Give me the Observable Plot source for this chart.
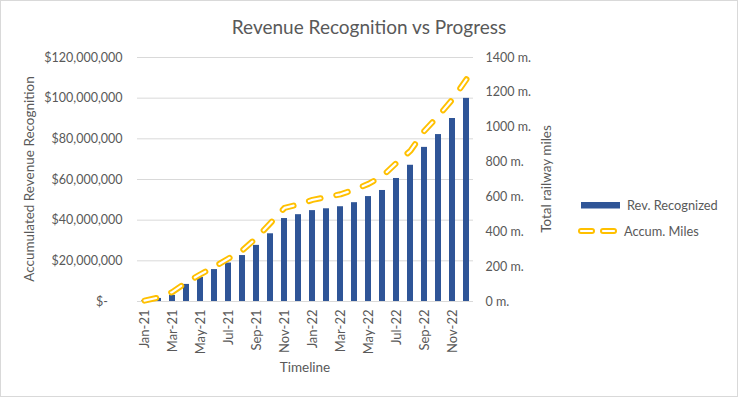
<!DOCTYPE html>
<html>
<head>
<meta charset="utf-8">
<script src="https://cdn.jsdelivr.net/npm/d3@7"></script>
<script src="https://cdn.jsdelivr.net/npm/@observablehq/plot@0.6"></script>
<style>
  body { margin: 0; background: #fff; }
  #wrap { position: relative; width: 738px; height: 397px; font-family: Lato, "Open Sans", sans-serif; color: #595959; overflow: hidden; }
  #frame { position: absolute; left: 0; top: 0; width: 738px; height: 397px; box-sizing: border-box; border: 1px solid #d9d9d9; pointer-events: none; }
  .lbl { position: absolute; white-space: nowrap; line-height: 1; transform: translate(-50%, -50%); }
  .rot { transform: translate(-50%, -50%) rotate(-90deg); }
  #legend { position: absolute; left: 570px; top: 192px; }
</style>
</head>
<body>
<div id="wrap">
  <div id="chart"></div>
  <div class="lbl" style="left:369px;top:26px;font-size:19px;">Revenue Recognition vs Progress</div>
  <div class="lbl rot" style="left:30px;top:179px;font-size:13.5px;">Accumulated Revenue Recognition</div>
  <div class="lbl rot" style="left:547px;top:179px;font-size:13.5px;">Total railway miles</div>
  <div class="lbl" style="left:305px;top:368px;font-size:13.5px;">Timeline</div>
  <div id="legend"></div>
  <div id="frame"></div>
</div>
<script>
const months = ["Jan-21","Feb-21","Mar-21","Apr-21","May-21","Jun-21","Jul-21","Aug-21","Sep-21","Oct-21","Nov-21","Dec-21",
                "Jan-22","Feb-22","Mar-22","Apr-22","May-22","Jun-22","Jul-22","Aug-22","Sep-22","Oct-22","Nov-22","Dec-22"];
// Accumulated revenue recognized, in millions of dollars
const revenueM = [0.3, 1.5, 3.0, 8.4, 11.8, 15.7, 18.9, 22.6, 27.6, 33.3, 40.8, 42.7, 44.7, 45.6, 46.6, 48.6, 51.6, 54.6, 60.5, 67.0, 75.8, 82.1, 90.0, 99.9];
// Accumulated railway miles
const miles = [5, 23, 55, 110, 156, 199, 247, 294, 365, 450, 537, 557, 583, 599, 615, 642, 675, 720, 795, 865, 980, 1065, 1160, 1275];
const revTicks = [0, 20e6, 40e6, 60e6, 80e6, 100e6, 120e6];
const mileTicks = [0, 200, 400, 600, 800, 1000, 1200, 1400];
const xTickLabels = months.filter((d, i) => i % 2 === 0);
const seriesNames = ["Rev. Recognized", "Accum. Miles"];

const data = months.map((m, i) => ({month: m, rev: revenueM[i] * 1e6, miles: miles[i]}));
const k = 120e6 / 1400;

const barColor = "#2F5597";
const lineColor = "#FFC000";
const dash = "12,16";

const chart = Plot.plot({
  width: 738,
  height: 397,
  marginLeft: 137,
  marginRight: 265,
  marginTop: 57,
  marginBottom: 96,
  style: {fontFamily: "Lato, 'Open Sans', sans-serif", fontSize: "12.5px", color: "#595959", background: "transparent", overflow: "visible"},
  x: {type: "band", domain: months, paddingInner: 0.55, paddingOuter: 0.275, label: null},
  y: {domain: [0, 120e6], label: null},
  marks: [
    Plot.gridY(revTicks, {stroke: "#d9d9d9", strokeOpacity: 1, strokeWidth: 1}),
    Plot.barY(data, {x: "month", y: "rev", fill: barColor}),
    Plot.line(data, {x: "month", y: d => d.miles * k, stroke: lineColor, strokeWidth: 6, strokeDasharray: dash, strokeLinecap: "round", strokeLinejoin: "round"}),
    Plot.line(data, {x: "month", y: d => d.miles * k, stroke: "#ffffff", strokeWidth: 2.2, strokeDasharray: dash, strokeLinecap: "round", strokeLinejoin: "round"}),
    Plot.axisY(revTicks, {anchor: "left", tickSize: 0, tickPadding: 15, label: null,
      tickFormat: d => d === 0 ? "$-\u2007\u2007" : "$" + d3.format(",")(d)}),
    Plot.axisY(mileTicks.map(m => m * k), {anchor: "right", tickSize: 0, tickPadding: 12, label: null,
      tickFormat: d => Math.round(d / k) + " m."}),
    Plot.axisX(xTickLabels, {anchor: "bottom", tickSize: 0, tickPadding: 8, tickRotate: -90, label: null, fontSize: 13})
  ]
});
document.getElementById("chart").appendChild(chart);

// Legend
const lg = d3.select("#legend").append("svg").attr("width", 168).attr("height", 60)
  .style("font-family", "Lato, 'Open Sans', sans-serif").style("font-size", "12.8px");
lg.append("rect").attr("x", 11).attr("y", 10).attr("width", 39).attr("height", 6.5).attr("fill", barColor);
lg.append("text").attr("x", 57).attr("y", 13.5).attr("dy", "0.35em").attr("fill", "#595959").text(seriesNames[0]);
[0, 22].forEach(off => {
  lg.append("line").attr("x1", 11 + off).attr("x2", 22 + off).attr("y1", 39).attr("y2", 39)
    .attr("stroke", lineColor).attr("stroke-width", 6).attr("stroke-linecap", "round");
  lg.append("line").attr("x1", 11 + off).attr("x2", 22 + off).attr("y1", 39).attr("y2", 39)
    .attr("stroke", "#fff").attr("stroke-width", 2.2).attr("stroke-linecap", "round");
});
lg.append("text").attr("x", 54).attr("y", 39.5).attr("dy", "0.35em").attr("fill", "#595959").text(seriesNames[1]);
</script>
</body>
</html>
